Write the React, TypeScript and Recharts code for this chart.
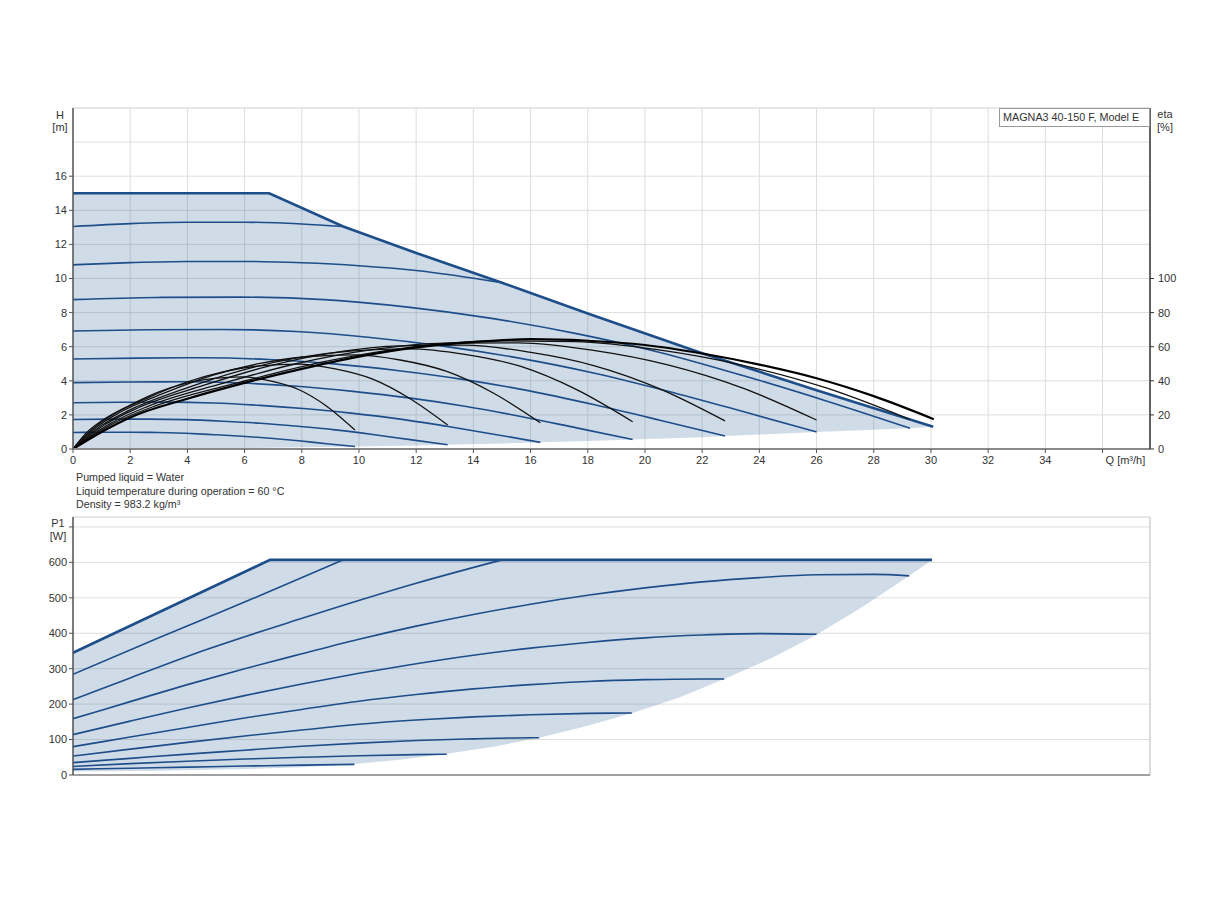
import React from "react";
import {
  ComposedChart,
  Line,
  Area,
  XAxis,
  YAxis,
  CartesianGrid,
  ReferenceLine,
} from "recharts";

// ---------- axes ----------
const Q_MAX = 37.66;
const Q_TICKS = [0, 2, 4, 6, 8, 10, 12, 14, 16, 18, 20, 22, 24, 26, 28, 30, 32, 34, 36];
const H_TICKS = [0, 2, 4, 6, 8, 10, 12, 14, 16];
const H_EXTRA_GRID = [18, 20];
const ETA_TICKS = [0, 20, 40, 60, 80, 100];
const P_TICKS = [0, 100, 200, 300, 400, 500, 600, 700];
const P_MAX_AXIS = 728;

// ---------- head curves [Q, H] ----------
const H_MAX = [[0, 15], [6.86, 15], [9.45, 13.05], [12, 11.5], [15, 9.75], [18, 7.95], [22, 5.62], [26, 3.45], [30.08, 1.3]];
const H_S2 = [[0, 13.05], [2, 13.22], [4, 13.3], [6, 13.3], [8, 13.2], [9.45, 13.05]];
const H_S3 = [[0, 10.8], [2, 10.93], [4, 11.0], [6, 11.0], [8, 10.92], [10, 10.75], [12, 10.47], [15, 9.75]];
const H_G = [[0, 8.76], [2.93, 8.89], [5.85, 8.91], [8.78, 8.76], [11.71, 8.32], [14.64, 7.66], [17.56, 6.78], [20.49, 5.68], [23.42, 4.31], [26.34, 2.82], [29.27, 1.22]];
const H_F = [[0, 6.92], [2.6, 6.99], [5.2, 7.01], [7.8, 6.89], [10.4, 6.54], [13.0, 6.02], [15.6, 5.33], [18.2, 4.46], [20.8, 3.39], [23.4, 2.21], [26.0, 1.0]];
const H_E = [[0, 5.28], [2.28, 5.33], [4.56, 5.35], [6.84, 5.25], [9.12, 4.99], [11.4, 4.59], [13.68, 4.07], [15.96, 3.41], [18.24, 2.59], [20.52, 1.69], [22.8, 0.76]];
const H_D = [[0, 3.89], [1.96, 3.93], [3.91, 3.94], [5.87, 3.87], [7.83, 3.68], [9.79, 3.38], [11.74, 3.0], [13.7, 2.51], [15.66, 1.91], [17.61, 1.24], [19.57, 0.56]];
const H_C = [[0, 2.71], [1.63, 2.74], [3.27, 2.75], [4.9, 2.7], [6.54, 2.56], [8.17, 2.36], [9.8, 2.09], [11.44, 1.75], [13.07, 1.33], [14.71, 0.87], [16.34, 0.39]];
const H_B = [[0, 1.73], [1.31, 1.75], [2.62, 1.75], [3.93, 1.72], [5.24, 1.63], [6.55, 1.51], [7.86, 1.33], [9.17, 1.12], [10.48, 0.85], [11.79, 0.55], [13.1, 0.25]];
const H_A = [[0, 0.97], [0.99, 0.98], [1.97, 0.98], [2.96, 0.97], [3.94, 0.92], [4.93, 0.84], [5.92, 0.75], [6.9, 0.63], [7.89, 0.48], [8.87, 0.31], [9.86, 0.15]];
// operating range [Q, low, high]
const H_RANGE = [[0, 0, 15], [2, 0.01, 15], [4, 0.02, 15], [6, 0.05, 15], [6.86, 0.07, 15], [9.45, 0.13, 13.05], [9.86, 0.15, 12.8], [12, 0.21, 11.5], [13.1, 0.25, 10.86], [15, 0.32, 9.75], [16.34, 0.39, 8.95], [18, 0.47, 7.95], [19.57, 0.55, 7.04], [22, 0.69, 5.62], [22.8, 0.76, 5.19], [26, 1.0, 3.45], [29.27, 1.22, 1.73], [30.08, 1.3, 1.3]];

// ---------- efficiency curves [Q, eta %] ----------
const E_A = [[0, 0], [0.49, 9.8], [0.99, 16.4], [1.97, 25.5], [2.96, 33.2], [3.94, 38.5], [4.93, 41.4], [5.92, 42.3], [6.9, 40.0], [7.89, 34.9], [8.87, 25.1], [9.86, 11.1]];
const E_B = [[0, 0], [0.66, 11.5], [1.31, 19.3], [2.62, 30.0], [3.93, 39.0], [5.24, 45.3], [6.55, 48.8], [7.86, 49.8], [9.17, 47.0], [10.48, 41.0], [11.79, 29.5], [13.1, 14.1]];
const E_C = [[0, 0], [0.82, 12.8], [1.63, 21.4], [3.27, 33.3], [4.9, 43.3], [6.54, 50.2], [8.17, 54.1], [9.8, 55.2], [11.44, 52.2], [13.07, 45.5], [14.71, 32.7], [16.34, 15.4]];
const E_D = [[0, 0], [0.98, 13.6], [1.96, 22.7], [3.91, 35.4], [5.87, 46.0], [7.83, 53.4], [9.79, 57.5], [11.74, 58.7], [13.7, 55.5], [15.66, 48.4], [17.61, 34.8], [19.57, 16.0]];
const E_E = [[0, 0], [1.14, 14.5], [2.28, 24.2], [4.56, 37.3], [6.84, 48.6], [9.12, 56.5], [11.4, 60.5], [13.68, 60.9], [15.96, 56.8], [18.24, 48.8], [20.52, 35.3], [22.8, 16.5]];
const E_F = [[0, 0], [1.3, 14.9], [2.6, 24.9], [5.2, 38.3], [7.8, 50.0], [10.4, 58.1], [13.0, 62.1], [15.6, 62.3], [18.2, 57.9], [20.8, 49.4], [23.4, 35.9], [26.0, 17.0]];
const E_G = [[0, 0], [1.46, 15.4], [2.93, 25.6], [5.85, 39.2], [8.78, 51.2], [11.71, 59.5], [14.64, 63.4], [17.56, 63.0], [20.49, 58.1], [23.42, 49.1], [26.34, 35.8], [29.27, 17.3]];
const E_MAX = [[0, 0], [1, 10], [2, 18.5], [4, 29.5], [6, 38.8], [8, 47], [10, 54.2], [12, 59.6], [14, 62.7], [16, 64.4], [18, 63.5], [20, 61], [22, 56], [24, 49.5], [26, 41.5], [28, 31], [30.1, 17.5]];

// ---------- power curves [Q, P1 W] ----------
const P_MAX = [[0, 345], [6.89, 607], [30.04, 607]];
const P_S2 = [[0, 284], [3, 387], [6, 488], [9.44, 607]];
const P_S3 = [[0, 213], [2, 274], [4.67, 354], [7.93, 440], [9.34, 476], [12, 541], [15, 607]];
const P_G = [[0, 159], [2, 207], [4, 255], [6, 300], [8, 342], [10, 383], [12, 420], [14, 453], [16, 482], [18, 507], [20, 528], [22, 545], [24, 557], [26, 565], [28, 566], [29.24, 562]];
const P_F = [[0, 114], [2, 152], [4, 189], [6, 224], [8, 257], [10, 287], [12, 314], [14, 338], [16, 358], [18, 374], [20, 387], [22, 395], [24, 399], [26, 397]];
const P_E = [[0, 80], [2, 107], [4, 134], [6, 161], [8, 185], [10, 208], [12, 227], [14, 243], [16, 255], [18, 264], [20, 269], [22, 271], [22.77, 271]];
const P_D = [[0, 53.5], [2, 73], [4, 92], [6, 110], [8, 127], [10, 143], [12, 155], [14, 164], [16, 170], [18, 174], [19.54, 175]];
const P_C = [[0, 35], [2, 47], [4, 59], [6, 70], [8, 81], [10, 90], [12, 97.5], [14, 102], [16, 105], [16.3, 105]];
const P_B = [[0, 24], [2, 32], [4, 39], [6, 45], [8, 50], [10, 54.5], [12, 57.5], [13.07, 58.5]];
const P_A = [[0, 16], [2, 19.2], [4, 22.3], [6, 25.2], [8, 27.8], [9.84, 30]];
const P_RANGE = [[0, 10, 345], [3, 12, 459], [6, 17, 573], [6.89, 19, 607], [8, 22, 607], [9.84, 31, 607], [11.5, 44, 607], [13.07, 60, 607], [14.7, 80, 607], [16.3, 105, 607], [17.9, 137, 607], [19.54, 174, 607], [21.2, 219, 607], [22.77, 271, 607], [24.4, 329, 607], [26, 396, 607], [27.6, 474, 607], [29.24, 562, 607], [30.04, 607, 607]];

// ---------- texts ----------
const MODEL_LABEL = "MAGNA3 40-150 F, Model E";
const NOTES = ["Pumped liquid = Water", "Liquid temperature during operation = 60 °C", "Density = 983.2 kg/m³"];
const Q_LABEL = "Q [m³/h]";

const toRows = (pairs: number[][], key: string) => pairs.map(([q, v]) => ({ q, [key]: v }));
const toRange = (rows: number[][]) => rows.map(([q, lo, hi]) => ({ q, range: [lo, hi] }));

const BLUE = "#1d4e89";
const FONT = "'Liberation Sans', Arial, sans-serif";
const TXT = "#333";
const GRID = "#dedede";

const XTick = (props: any) => {
  const { x, y, payload } = props;
  const v = payload.value;
  if (v === 36) {
    return (
      <text x={x + 3} y={y} dy="0.71em" textAnchor="start" fontSize={11} fill={TXT} fontFamily={FONT}>
        {Q_LABEL}
      </text>
    );
  }
  return (
    <text x={x} y={y} dy="0.71em" textAnchor="middle" fontSize={11} fill={TXT} fontFamily={FONT}>
      {v}
    </text>
  );
};

const headLines = [H_S2, H_S3, H_G, H_F, H_E, H_D, H_C, H_B, H_A];
const etaLines = [E_A, E_B, E_C, E_D, E_E, E_F, E_G];
const powerLines = [P_S2, P_S3, P_G, P_F, P_E, P_D, P_C, P_B, P_A];

export default function App() {
  const tickStyle = { fontSize: 11, fill: TXT, fontFamily: FONT };
  return (
    <div style={{ position: "absolute", left: 0, top: 0, width: 1224, height: 900, background: "#fff", fontFamily: FONT }}>
      {/* Top chart: head & efficiency */}
      <div style={{ position: "absolute", left: 0, top: 0 }}>
        <ComposedChart width={1224} height={480} data={toRange(H_RANGE)} margin={{ top: 108, right: 34, bottom: 0, left: 33 }}>
          <CartesianGrid stroke={GRID} strokeWidth={1} yAxisId="h" />
          <XAxis
            dataKey="q"
            type="number"
            domain={[0, Q_MAX]}
            ticks={Q_TICKS}
            allowDataOverflow
            height={31}
            tickSize={4}
            tickMargin={3}
            tick={<XTick />}
            axisLine={{ stroke: "#8a8a8a", strokeWidth: 2 }}
            tickLine={{ stroke: "#555" }}
          />
          <YAxis
            yAxisId="h"
            type="number"
            domain={[0, 20]}
            ticks={H_TICKS}
            width={40}
            tickSize={4}
            tickMargin={2}
            tick={tickStyle}
            axisLine={{ stroke: "#555", strokeWidth: 1.5 }}
            tickLine={{ stroke: "#555" }}
            allowDataOverflow
          />
          <YAxis
            yAxisId="eta"
            orientation="right"
            type="number"
            domain={[0, 200]}
            ticks={ETA_TICKS}
            width={40}
            tickSize={4}
            tickMargin={4}
            tick={{ ...tickStyle, textAnchor: "start" }}
            axisLine={{ stroke: "#333", strokeWidth: 1.5 }}
            tickLine={{ stroke: "#333" }}
            allowDataOverflow
          />
          {H_EXTRA_GRID.map((v) => (
            <ReferenceLine key={v} yAxisId="h" y={v} stroke={GRID} strokeWidth={1} />
          ))}
          <Area
            yAxisId="h"
            dataKey="range"
            type="linear"
            stroke="none"
            fill="#15498a"
            fillOpacity={0.2}
            isAnimationActive={false}
            activeDot={false}
          />
          {headLines.map((d, i) => (
            <Line
              key={"h" + i}
              yAxisId="h"
              data={toRows(d, "v")}
              dataKey="v"
              type="monotone"
              stroke={BLUE}
              strokeWidth={1.6}
              dot={false}
              activeDot={false}
              isAnimationActive={false}
            />
          ))}
          <Line
            yAxisId="h"
            data={toRows(H_MAX, "v")}
            dataKey="v"
            type="linear"
            stroke={BLUE}
            strokeWidth={2.6}
            dot={false}
            activeDot={false}
            isAnimationActive={false}
          />
          {etaLines.map((d, i) => (
            <Line
              key={"e" + i}
              yAxisId="eta"
              data={toRows(d, "v")}
              dataKey="v"
              type="monotone"
              stroke="#111"
              strokeWidth={1.3}
              dot={false}
              activeDot={false}
              isAnimationActive={false}
            />
          ))}
          <Line
            yAxisId="eta"
            data={toRows(E_MAX, "v")}
            dataKey="v"
            type="monotone"
            stroke="#000"
            strokeWidth={2.2}
            dot={false}
            activeDot={false}
            isAnimationActive={false}
          />
        </ComposedChart>
      </div>

      {/* Bottom chart: power */}
      <div style={{ position: "absolute", left: 0, top: 500 }}>
        <ComposedChart width={1224} height={300} data={toRange(P_RANGE)} margin={{ top: 17, right: 74, bottom: 24, left: 33 }}>
          <CartesianGrid stroke={GRID} strokeWidth={1} yAxisId="p" />
          <XAxis
            dataKey="q"
            type="number"
            domain={[0, Q_MAX]}
            ticks={Q_TICKS}
            allowDataOverflow
            height={1}
            tick={false}
            tickLine={false}
            axisLine={{ stroke: "#a0a0a0", strokeWidth: 2 }}
          />
          <YAxis
            yAxisId="p"
            type="number"
            domain={[0, P_MAX_AXIS]}
            ticks={P_TICKS}
            width={40}
            tickSize={4}
            tickMargin={2}
            tick={tickStyle}
            tickFormatter={(v: number) => (v === 700 ? "" : String(v))}
            axisLine={{ stroke: "#555", strokeWidth: 1.5 }}
            tickLine={{ stroke: "#555" }}
            allowDataOverflow
          />
          <ReferenceLine yAxisId="p" y={P_MAX_AXIS} stroke={GRID} strokeWidth={1} />
          <ReferenceLine yAxisId="p" x={Q_MAX} stroke="#c8c8c8" strokeWidth={1} />
          <Area
            yAxisId="p"
            dataKey="range"
            type="linear"
            stroke="none"
            fill="#15498a"
            fillOpacity={0.2}
            isAnimationActive={false}
            activeDot={false}
          />
          {powerLines.map((d, i) => (
            <Line
              key={"p" + i}
              yAxisId="p"
              data={toRows(d, "v")}
              dataKey="v"
              type="monotone"
              stroke={BLUE}
              strokeWidth={1.6}
              dot={false}
              activeDot={false}
              isAnimationActive={false}
            />
          ))}
          <Line
            yAxisId="p"
            data={toRows(P_MAX, "v")}
            dataKey="v"
            type="linear"
            stroke={BLUE}
            strokeWidth={2.6}
            dot={false}
            activeDot={false}
            isAnimationActive={false}
          />
        </ComposedChart>
      </div>

      {/* Text overlay */}
      <svg width={1224} height={900} style={{ position: "absolute", left: 0, top: 0, pointerEvents: "none" }}>
        <g fontFamily={FONT} fontSize={11} fill={TXT}>
          <text x={60} y={119} textAnchor="middle">H</text>
          <text x={60} y={131} textAnchor="middle">[m]</text>
          <text x={1165} y={118} textAnchor="middle">eta</text>
          <text x={1165} y={131} textAnchor="middle">[%]</text>
          <text x={58} y={527} textAnchor="middle">P1</text>
          <text x={58} y={540} textAnchor="middle">[W]</text>
          {NOTES.map((t, i) => (
            <text key={i} x={76} y={481 + i * 13.5} fontSize={10.7}>{t}</text>
          ))}
        </g>
        <rect x={999.5} y={108.5} width={150} height={18} fill="#fff" stroke="#9a9a9a" strokeWidth={1} />
        <text x={1003} y={121} fontFamily={FONT} fontSize={10.8} fill={TXT}>{MODEL_LABEL}</text>
      </svg>
    </div>
  );
}
